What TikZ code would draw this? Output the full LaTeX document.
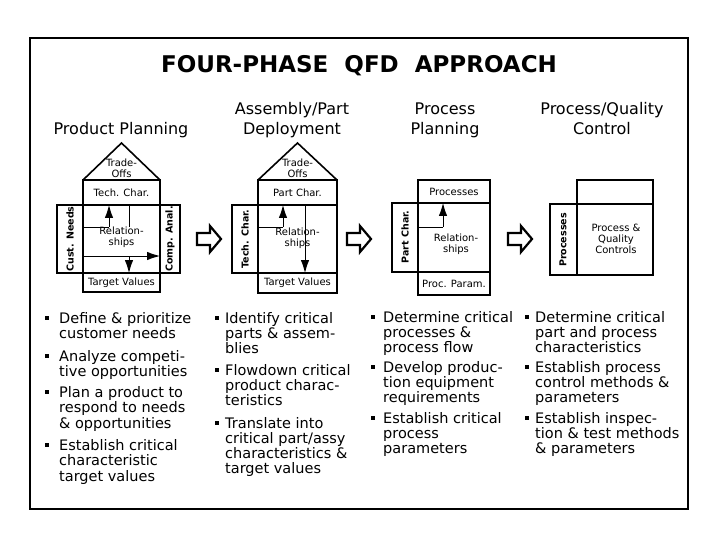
\documentclass[tikz,border=0pt]{standalone}
\usepackage{fontspec}
\setmainfont{DejaVu Sans}
\usetikzlibrary{arrows.meta}
\begin{document}
\begin{tikzpicture}[x=1pt,y=-1pt,
  box/.style={draw, line width=1.6pt},
  thinline/.style={draw, line width=0.9pt},
  hollow/.style={draw, line width=2.2pt, line join=miter, fill=white},
  darrow/.style={line width=0.9pt, -{Latex[length=13pt,width=8.5pt]}},
  lbl/.style={font=\fontsize{10}{11}\selectfont, inner sep=0pt, align=center},
  vlbl/.style={font=\bfseries\fontsize{9.5}{10}\selectfont, rotate=90, inner sep=0pt},
  head/.style={font=\fontsize{16}{18}\selectfont, inner sep=0pt, anchor=base},
  itma/.style={font=\fontsize{14.5}{15.6}\selectfont, inner sep=0pt, align=left, anchor=base west},
  itmb/.style={font=\fontsize{14.5}{15}\selectfont, inner sep=0pt, align=left, anchor=base west},
  bul/.style={fill=black, inner sep=0pt, minimum size=3.8pt}
]
\useasboundingbox (0,0) rectangle (720,540);
% frame
\draw[line width=2.5pt] (30,38) rectangle (688,509);
% title
\node[font=\bfseries\fontsize{23}{25}\selectfont, anchor=base, inner sep=0pt] (title) at (359,73) {FOUR-PHASE\ \ QFD\ \ APPROACH};
% headings
\node[head] (h1) at (121,135) {Product Planning};
\node[head] (h2a) at (292,115) {Assembly/Part};
\node[head] (h2b) at (292,135) {Deployment};
\node[head] (h3a) at (445,115) {Process};
\node[head] (h3b) at (445,135) {Planning};
\node[head] (h4a) at (602,115) {Process/Quality};
\node[head] (h4b) at (602,135) {Control};

% ---------- Phase 1
\coordinate (p1tl) at (83,180);
\coordinate (p1tr) at (160,180);
\coordinate (p1ap) at (121.5,143);
\draw[box, line join=miter] (p1tl) -- (p1ap) -- (p1tr);
\draw[box] (83,180) rectangle (160,205);
\draw[box] (57,205) rectangle (180,273);
\draw[box] (83,205) -- (83,273);
\draw[box] (160,205) -- (160,273);
\draw[box] (83,273) rectangle (160,292);
\node[lbl] (to1) at (121.5,168.5) {Trade-\\Offs};
\node[lbl] (tc1) at (121.5,192.5) {Tech. Char.};
\node[lbl] (rs1) at (121.5,237) {Relation-\\ships};
\node[lbl] (tv1) at (121.5,282.5) {Target Values};
\node[vlbl] (cn1) at (70,239) {Cust. Needs};
\node[vlbl] (ca1) at (170,239) {Comp. Anal.};
\coordinate (a1s) at (109,227);
\coordinate (a1e) at (109,205);
\coordinate (b1s) at (129,256);
\coordinate (b1e) at (129,273);
\draw[thinline] (83,227) -- (a1s);
\draw[darrow] (a1s) -- (a1e);
\draw[thinline] (129,205) -- (129,227);
\coordinate (c1s) at (83,256);
\coordinate (c1e) at (160,256);
\draw[darrow] (c1s) -- (c1e);
\draw[darrow] (b1s) -- (b1e);

% ---------- Phase 2
\coordinate (p2tl) at (258,180);
\coordinate (p2tr) at (337,180);
\coordinate (p2ap) at (297.5,143);
\draw[box, line join=miter] (p2tl) -- (p2ap) -- (p2tr);
\draw[box] (258,180) rectangle (337,205);
\draw[box] (232,205) rectangle (337,273);
\draw[box] (258,205) -- (258,273);
\draw[box] (258,273) rectangle (337,293);
\node[lbl] (to2) at (297.5,168.5) {Trade-\\Offs};
\node[lbl] (pc2) at (297.5,192.5) {Part Char.};
\node[lbl] (rs2) at (297.5,238) {Relation-\\ships};
\node[lbl] (tv2) at (297.5,283) {Target Values};
\node[vlbl] (tc2) at (245,239) {Tech. Char.};
\coordinate (a2s) at (283,227);
\coordinate (a2e) at (283,205);
\draw[thinline] (258,227) -- (a2s);
\draw[darrow] (a2s) -- (a2e);
\coordinate (b2s) at (305,205);
\coordinate (b2e) at (305,273);
\draw[darrow] (b2s) -- (b2e);

% ---------- Phase 3
\draw[box] (418,180) rectangle (490,203);
\draw[box] (392,203) rectangle (490,272);
\draw[box] (418,203) -- (418,272);
\draw[box] (418,272) rectangle (490,295);
\node[lbl] (pr3) at (454,191.5) {Processes};
\node[lbl] (rs3) at (456,244) {Relation-\\ships};
\node[lbl] (pp3) at (454,283.5) {Proc. Param.};
\node[vlbl] (pc3) at (405,237) {Part Char.};
\coordinate (a3s) at (443,227);
\coordinate (a3e) at (443,203);
\draw[thinline] (418,227) -- (a3s);
\draw[darrow] (a3s) -- (a3e);

% ---------- Phase 4
\draw[box] (577,180) rectangle (653,204);
\draw[box] (550,204) rectangle (653,275);
\draw[box] (577,204) -- (577,275);
\node[lbl] (qc4) at (616,239) {Process \&\\Quality\\Controls};
\node[vlbl] (pr4) at (563,240) {Processes};

% ---------- hollow arrows
\foreach \dx/\nm in {0/ha1,150/ha2,311/ha3}{
  \begin{scope}[xshift=\dx]
    \draw[hollow] (197,233) -- (210,233) -- (210,226) -- (221,239) -- (210,252) -- (210,245) -- (197,245) -- cycle;
    \coordinate (\nm) at (209,239);
  \end{scope}
}

% ---------- bullet lists (node base = baseline of the last line)
% column 1
\node[bul] (bu11) at (47,318) {};
\node[itma] (it11) at (59,338.6) {Define \& prioritize\\customer needs};
\node[bul] (bu12) at (47,356) {};
\node[itma] (it12) at (59,376.6) {Analyze competi-\\tive opportunities};
\node[bul] (bu13) at (47,392) {};
\node[itma] (it13) at (59,428.2) {Plan a product to\\respond to needs\\\& opportunities};
\node[bul] (bu14) at (47,445) {};
\node[itma] (it14) at (59,481.2) {Establish critical\\characteristic\\target values};
% column 2
\node[bul] (bu21) at (217,318) {};
\node[itmb] (it21) at (225,353) {Identify critical\\parts \& assem-\\blies};
\node[bul] (bu22) at (217,370) {};
\node[itmb] (it22) at (225,405) {Flowdown critical\\product charac-\\teristics};
\node[bul] (bu23) at (217,423) {};
\node[itmb] (it23) at (225,473) {Translate into\\critical part/assy\\characteristics \&\\target values};
% column 3
\node[bul] (bu31) at (373,317) {};
\node[itmb] (it31) at (383,352) {Determine critical\\processes \&\\process flow};
\node[bul] (bu32) at (373,367) {};
\node[itmb] (it32) at (383,402) {Develop produc-\\tion equipment\\requirements};
\node[bul] (bu33) at (373,418) {};
\node[itmb] (it33) at (383,453) {Establish critical\\process\\parameters};
% column 4
\node[bul] (bu41) at (527,317) {};
\node[itmb] (it41) at (535,352) {Determine critical\\part and process\\characteristics};
\node[bul] (bu42) at (527,367) {};
\node[itmb] (it42) at (535,402) {Establish process\\control methods \&\\parameters};
\node[bul] (bu43) at (527,418) {};
\node[itmb] (it43) at (535,453) {Establish inspec-\\tion \& test methods\\\& parameters};
\end{tikzpicture}
\end{document}
